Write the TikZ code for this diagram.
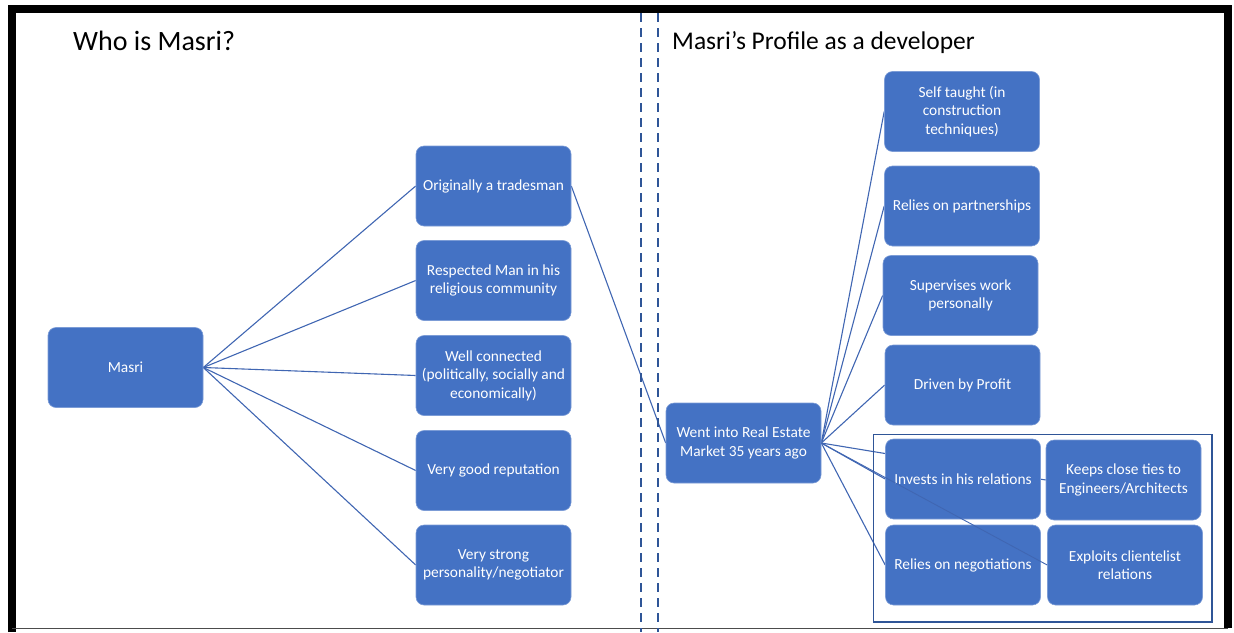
\documentclass[tikz,border=0pt]{standalone}
\usepackage{fontspec}
\setmainfont{Carlito}
\definecolor{boxblue}{HTML}{4472C4}
\definecolor{darkblue}{HTML}{2F5597}
\definecolor{linkblue}{HTML}{4066B2}
\pgfdeclarelayer{back}
\pgfsetlayers{back,main}
\begin{document}
\begin{tikzpicture}[x=1pt,y=-1pt,
  box/.style={draw=boxblue!70!white, line width=0.6pt, fill=boxblue, rounded corners=8pt,
    minimum width=155pt, minimum height=80pt, inner sep=3pt, align=center,
    text=white, font=\fontsize{15.4}{18.5}\selectfont},
  link/.style={draw=linkblue, line width=1.1pt},
  title/.style={anchor=base west, inner sep=0pt},
  divider/.style={draw=darkblue, line width=2pt, dash pattern=on 9pt off 6pt}]
\useasboundingbox (0,0) rectangle (1234,632);

% outer frame
\draw[black, line width=8pt] (12,632) -- (12,9) -- (1228,9) -- (1228,628);
\draw[black!70, line width=1.5pt] (12,628.5) -- (1228,628.5);

% double dashed divider
\draw[divider] (641,13) -- (641,632);
\draw[divider] (657.5,13) -- (657.5,632);

% headings
\node[title, font=\fontsize{28}{33}\selectfont] (t1) at (73,50) {Who is Masri?};
\node[title, font=\fontsize{25.5}{30}\selectfont] (t2) at (672,49) {Masri’s Profile as a developer};

% grouping frame around relations
\draw[darkblue, line width=1.8pt] (873.5,434.5) rectangle (1212,622);

% left part
\node[box] (masri) at (125.5,367.5) {Masri};
\node[box] (trade) at (493.5,186) {Originally a tradesman};
\node[box] (respect) at (493.5,280.5) {Respected Man in his\\religious community};
\node[box] (connected) at (493.5,375.5) {Well connected\\(politically, socially and\\economically)};
\node[box] (reputation) at (493.5,470.5) {Very good reputation};
\node[box] (strong) at (493.5,565) {Very strong\\personality/negotiator};

% right part
\node[box] (went) at (743.5,443) {Went into Real Estate\\Market 35 years ago};
\node[box] (taught) at (962,111.5) {Self taught (in\\construction\\techniques)};
\node[box] (partner) at (962,206) {Relies on partnerships};
\node[box] (supervise) at (960.5,295.5) {Supervises work\\personally};
\node[box] (profit) at (962.5,385) {Driven by Profit};
\node[box] (invest) at (963,479) {Invests in his relations};
\node[box] (negot) at (963,565) {Relies on negotiations};
\node[box] (ties) at (1123.5,480) {Keeps close ties to\\Engineers/Architects};
\node[box] (exploit) at (1125,565) {Exploits clientelist\\relations};

% connectors, drawn behind the boxes
\begin{pgfonlayer}{back}
  \foreach \t in {trade,respect,connected,reputation,strong}
    \draw[link] (masri.east) -- (\t.west);
  \draw[link] (trade.east) -- (went.west);
  \foreach \t in {taught,partner,supervise,profit,invest,negot,ties}
    \draw[link] (went.east) -- (\t.west);
\end{pgfonlayer}
% this one runs across the boxes
\draw[link, line width=0.9pt] (went.east) -- (exploit.west);

\end{tikzpicture}
\end{document}
